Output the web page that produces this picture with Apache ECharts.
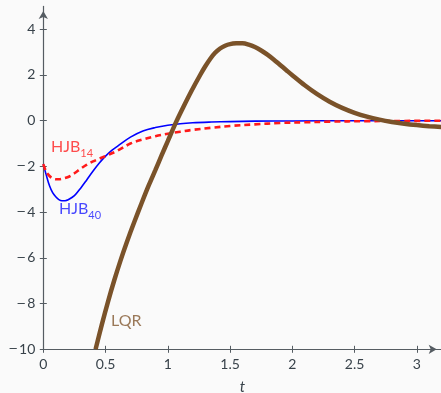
<!DOCTYPE html>
<html><head><meta charset="utf-8">
<script src="https://cdn.jsdelivr.net/npm/echarts@6/dist/echarts.min.js"></script>
<style>html,body{margin:0;padding:0;background:#fafafa}#c{width:441px;height:393px}</style>
</head><body><div id="c"></div>
<script>
// tick labels
const xTicks = [0, 0.5, 1, 1.5, 2, 2.5, 3];
const yTicks = [-10, -8, -6, -4, -2, 0, 2, 4];

// HJB40 (blue)
const tHjb40 = [0, 0.025, 0.05, 0.075, 0.1, 0.125, 0.15, 0.175, 0.2, 0.25, 0.3, 0.35, 0.4, 0.45, 0.5, 0.55, 0.6, 0.7, 0.8, 0.9, 1.0, 1.1, 1.2, 1.35, 1.5, 1.7, 2.0, 2.5, 3.2];
const hjb40  = [-1.9, -2.4, -2.85, -3.15, -3.33, -3.45, -3.5, -3.5, -3.46, -3.28, -2.95, -2.58, -2.2, -1.85, -1.55, -1.3, -1.1, -0.72, -0.45, -0.3, -0.2, -0.13, -0.09, -0.06, -0.04, -0.02, -0.01, 0, 0];

// HJB14 (red dashed)
const tHjb14 = [0, 0.025, 0.05, 0.075, 0.1, 0.125, 0.15, 0.2, 0.25, 0.3, 0.35, 0.4, 0.45, 0.5, 0.6, 0.7, 0.8, 0.9, 1.0, 1.1, 1.2, 1.35, 1.5, 1.7, 1.9, 2.1, 2.3, 2.6, 2.9, 3.2];
const hjb14  = [-1.9, -2.25, -2.42, -2.52, -2.56, -2.56, -2.54, -2.46, -2.3, -2.1, -1.92, -1.78, -1.66, -1.55, -1.3, -1.0, -0.82, -0.68, -0.57, -0.48, -0.4, -0.31, -0.23, -0.16, -0.1, -0.07, -0.04, -0.02, -0.01, 0];

// LQR (brown)
const tLqr = [0.42, 0.47, 0.52, 0.57, 0.62, 0.67, 0.73, 0.79, 0.85, 0.9, 0.95, 1.0, 1.07, 1.125, 1.19, 1.26, 1.3, 1.34, 1.38, 1.42, 1.46, 1.5, 1.55, 1.6, 1.65, 1.7, 1.75, 1.8, 1.85, 1.9, 1.95, 2.0, 2.1, 2.2, 2.3, 2.4, 2.5, 2.6, 2.7, 2.8, 2.9, 3.0, 3.1, 3.2];
const lqr  = [-10, -8.92, -7.91, -6.98, -6.12, -5.33, -4.44, -3.6, -2.79, -2.16, -1.52, -0.89, -0.02, 0.6, 1.3, 2.0, 2.37, 2.7, 2.97, 3.16, 3.28, 3.35, 3.385, 3.39, 3.33, 3.22, 3.07, 2.89, 2.68, 2.45, 2.22, 1.99, 1.55, 1.16, 0.83, 0.56, 0.345, 0.175, 0.045, -0.055, -0.13, -0.19, -0.24, -0.28];

// curve labels
const labelHjb14 = [0.062, -1.24];
const labelHjb40 = [0.126, -3.95];
const labelLqr = [0.544, -8.75];

const zip = (a, b) => a.map((v, i) => [v, b[i]]);
const FONT = 'Lato';
const TXT = '#38424a';
const AX = '#555c62';
const fmt = v => (v < 0 ? '{m|\u2212}' + Math.abs(v) : String(v));
const minusRich = {m: {fontFamily: 'DejaVu Sans', fontSize: 11.5, color: TXT, padding: [0, 1, 0, 0]}};

function subLabel(main, sub, color) {
  return {
    show: true, position: 'right', distance: 0,
    formatter: '{a|' + main + '}{b|' + sub + '}',
    rich: {
      a: {fontFamily: FONT, fontSize: 16, lineHeight: 20, verticalAlign: 'top', color: color},
      b: {fontFamily: FONT, fontSize: 11, lineHeight: 11, padding: [9, 0, 0, 0], verticalAlign: 'top', color: color}
    }
  };
}

const chart = echarts.init(document.getElementById('c'), null, {renderer: 'canvas'});
const xBase = {type: 'value', min: 0, max: 3.2, splitLine: {show: false}};
const yBase = {type: 'value', min: -10, max: 5, splitLine: {show: false}};
chart.setOption({
  backgroundColor: '#fafafa',
  animation: false,
  grid: {left: 43.3, top: 6.4, width: 398.4, height: 342.9, containLabel: false, outerBoundsMode: 'none'},
  xAxis: [
    Object.assign({}, xBase, {
      position: 'bottom',
      name: 't', nameLocation: 'middle', nameGap: 30,
      nameTextStyle: {fontFamily: FONT, fontSize: 15, fontStyle: 'italic', color: TXT},
      axisLine: {show: true, onZero: false, lineStyle: {color: AX, width: 1.2}, symbol: ['none', 'arrow'], symbolSize: [7, 8], symbolOffset: [0, -5]},
      axisTick: {show: true, length: 3.5, lineStyle: {color: AX}, customValues: xTicks},
      axisLabel: {show: true, margin: 8, fontFamily: FONT, fontSize: 14, color: TXT, customValues: xTicks, formatter: fmt, rich: minusRich}
    }),
    Object.assign({}, xBase, {
      position: 'bottom',
      axisLine: {show: false, onZero: false},
      axisTick: {show: true, inside: true, length: 3.5, lineStyle: {color: AX}, customValues: xTicks},
      axisLabel: {show: false}
    })
  ],
  yAxis: [
    Object.assign({}, yBase, {
      position: 'left',
      axisLine: {show: true, onZero: false, lineStyle: {color: AX, width: 1.2}, symbol: ['none', 'arrow'], symbolSize: [7, 8], symbolOffset: [0, -4.5]},
      axisTick: {show: true, length: 3.5, lineStyle: {color: AX}, customValues: yTicks},
      axisLabel: {show: true, margin: 8, fontFamily: FONT, fontSize: 14, color: TXT, customValues: yTicks, formatter: fmt, rich: minusRich}
    }),
    Object.assign({}, yBase, {
      position: 'left',
      axisLine: {show: false, onZero: false},
      axisTick: {show: true, inside: true, length: 3.5, lineStyle: {color: AX}, customValues: yTicks},
      axisLabel: {show: false}
    })
  ],
  series: [
    {type: 'line', name: 'HJB40', data: zip(tHjb40, hjb40), smooth: 0.35, showSymbol: false,
     lineStyle: {color: '#0000ff', width: 1.6}, z: 2},
    {type: 'line', name: 'HJB14', data: zip(tHjb14, hjb14), smooth: 0.35, showSymbol: false,
     lineStyle: {color: '#ff1a1a', width: 2.6, type: [6, 4]}, z: 3},
    {type: 'line', name: 'LQR', data: zip(tLqr, lqr), smooth: 0.3, showSymbol: false,
     lineStyle: {color: '#7a5229', width: 4.5}, z: 4},
    {type: 'scatter', symbolSize: 0, silent: true, data: [labelHjb14], label: subLabel('HJB', '14', '#ff2020'), z: 5},
    {type: 'scatter', symbolSize: 0, silent: true, data: [labelHjb40], label: subLabel('HJB', '40', '#1a1aff'), z: 5},
    {type: 'scatter', symbolSize: 0, silent: true, data: [labelLqr],
     label: {show: true, position: 'right', distance: 0, formatter: 'LQR', fontFamily: FONT, fontSize: 16, color: '#82582f'}, z: 5}
  ]
});
</script>
</body></html>
